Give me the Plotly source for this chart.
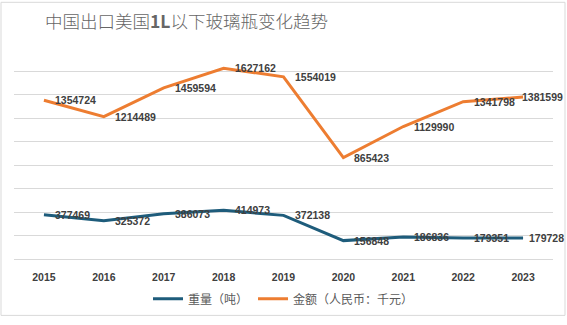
import plotly.graph_objects as go

years = ["2015", "2016", "2017", "2018", "2019", "2020", "2021", "2022", "2023"]
weight = [377469, 325372, 386073, 414973, 372138, 156848, 186836, 179351, 179728]
amount = [1354724, 1214489, 1459594, 1627162, 1554019, 865423, 1129990, 1341798, 1381599]

W, H = 567, 325
L, R, T, B = 14, 14, 48, 60
pw, ph = W - L - R, H - T - B

label_font = dict(family="Liberation Sans", size=10.5, color="#404040", weight="bold")

fig = go.Figure()
fig.add_trace(go.Scatter(
    x=years, y=weight, name="重量（吨）", mode="lines",
    line=dict(color="#1E5C7B", width=3),
))
fig.add_trace(go.Scatter(
    x=years, y=amount, name="金额（人民币：千元）", mode="lines",
    line=dict(color="#ED7D31", width=3),
))

annotations = []
for series, last_shift in ((weight, 4), (amount, -3)):
    n = len(series)
    for i, v in enumerate(series):
        annotations.append(dict(
            x=i, y=v, xref="x", yref="y", text=str(v), showarrow=False,
            xanchor="left", yanchor="middle",
            xshift=last_shift if i == n - 1 else 9, font=label_font,
        ))

fig.update_layout(
    width=W, height=H,
    margin=dict(l=L, r=R, t=T, b=B),
    paper_bgcolor="white", plot_bgcolor="white",
    title=dict(
        text="中国出口美国<b>1L</b>以下玻璃瓶变化趋势",
        x=45 / W, xanchor="left", xref="container",
        y=1 - 22 / H, yanchor="middle", yref="container",
        font=dict(family="Noto Sans CJK SC", size=17.5, color="#666666", weight=300),
    ),
    showlegend=True,
    legend=dict(
        orientation="h", x=0.5, xanchor="center", xref="paper",
        y=-(306 - 265) / ph, yanchor="middle",
        font=dict(family="Noto Sans CJK SC", size=12, color="#595959"),
        itemwidth=30, tracegroupgap=0,
    ),
    xaxis=dict(
        type="category", categoryarray=years, categoryorder="array",
        range=[-0.5, len(years) - 0.5],
        showgrid=False, showline=True, linecolor="#D9D9D9",
        linewidth=1, ticks="", ticklabelstandoff=8,
        tickfont=dict(family="Liberation Sans", size=10.5, color="#404040", weight="bold"),
        fixedrange=True,
    ),
    yaxis=dict(
        range=[0, 1800000], dtick=200000, showgrid=True, gridcolor="#D9D9D9",
        gridwidth=1, showticklabels=False, zeroline=False, fixedrange=True,
    ),
    annotations=annotations,
    shapes=[dict(
        type="rect", xref="paper", yref="paper",
        x0=(1 - L) / pw, x1=(W - 2 - L) / pw,
        y0=-(H - 2 - (H - B)) / ph, y1=((H - B) - 1) / ph,
        line=dict(color="#D9D9D9", width=1), layer="below",
    )],
)

fig.write_html("out.html")
